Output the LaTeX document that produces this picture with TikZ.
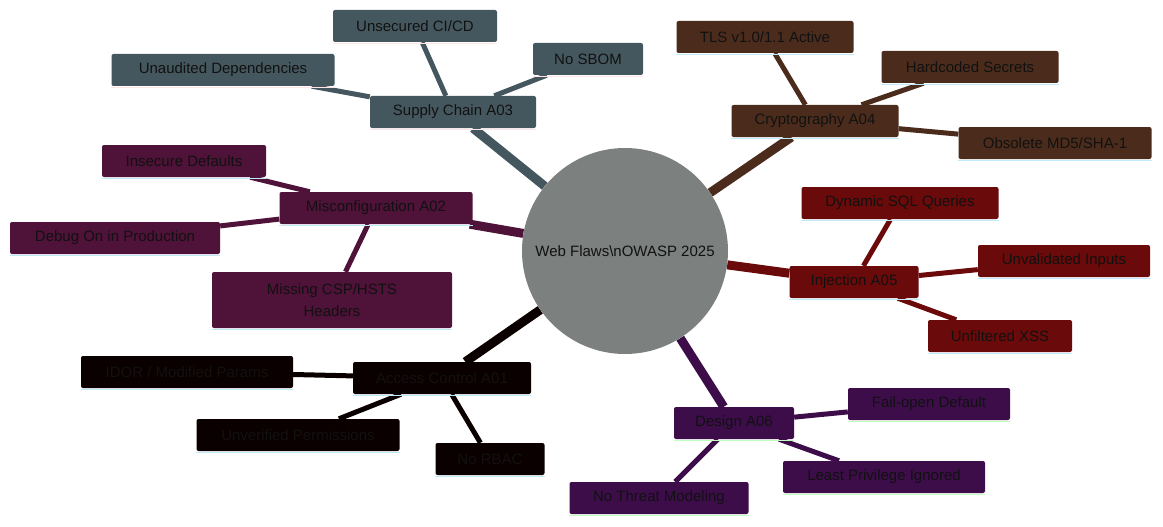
\documentclass[tikz,border=0pt]{standalone}
\usepackage{fontspec}
\setmainfont{Liberation Sans}
\usetikzlibrary{backgrounds}
\definecolor{slate}{HTML}{45575E}
\definecolor{rust}{HTML}{4B2C1C}
\definecolor{blood}{HTML}{6B0A0A}
\definecolor{plum}{HTML}{3D0D4A}
\definecolor{wine}{HTML}{4F1238}
\definecolor{coal}{HTML}{0A0000}
\definecolor{hub}{HTML}{7C807F}
\definecolor{ink}{HTML}{111111}

\begin{document}
\begin{tikzpicture}[x=1pt,y=-1pt,
  box/.style={fill=#1,rounded corners=2pt,inner sep=0pt,minimum height=32pt,font=\fontsize{15}{18}\selectfont,text=ink},
  uline/.style={append after command={([yshift=-1.2pt]\tikzlastnode.south west) edge[draw=#1,line width=1.6pt] ([yshift=-1.2pt]\tikzlastnode.south east)}},
  trunk/.style={draw=#1,line width=9pt},
  twig/.style={draw=#1,line width=5pt}]
\useasboundingbox (0,0) rectangle (1163,527);

\node[circle,fill=hub,minimum size=206pt,inner sep=0pt,font=\fontsize{15}{18}\selectfont,text=ink] (root) at (625,251) {Web Flaws\textbackslash nOWASP 2025};

% supply chain
\node[box=slate,uline=pink!40,minimum width=166pt] (sc) at (453,112) {Supply Chain A03};
\node[box=slate,uline=pink!40,minimum width=164pt] (sc1) at (415,26) {Unsecured CI/CD};
\node[box=slate,uline=pink!40,minimum width=110pt] (sc2) at (588,59) {No SBOM};
\node[box=slate,uline=pink!40,minimum width=223pt] (sc3) at (223,70) {Unaudited Dependencies};

% cryptography
\node[box=rust,uline=cyan!25,minimum width=167pt] (cr) at (815,121) {Cryptography A04};
\node[box=rust,uline=cyan!25,minimum width=177pt] (cr1) at (765,37) {TLS v1.0/1.1 Active};
\node[box=rust,uline=cyan!25,minimum width=177pt] (cr2) at (970,67) {Hardcoded Secrets};
\node[box=rust,uline=cyan!25,minimum width=193pt] (cr3) at (1055,143) {Obsolete MD5/SHA-1};

% injection
\node[box=blood,uline=cyan!25,minimum width=129pt] (in) at (854,282) {Injection A05};
\node[box=blood,uline=cyan!25,minimum width=197pt] (in1) at (900,203) {Dynamic SQL Queries};
\node[box=blood,uline=cyan!25,minimum width=172pt] (in2) at (1064,261) {Unvalidated Inputs};
\node[box=blood,uline=cyan!25,minimum width=144pt] (in3) at (1000,336) {Unfiltered XSS};

% design
\node[box=plum,uline=green!25,minimum width=120pt] (de) at (734,423) {Design A06};
\node[box=plum,uline=green!25,minimum width=162pt] (de1) at (929,404) {Fail-open Default};
\node[box=plum,uline=green!25,minimum width=202pt] (de2) at (884,477) {Least Privilege Ignored};
\node[box=plum,uline=green!25,minimum width=179pt] (de3) at (659,498) {No Threat Modeling};

% misconfiguration
\node[box=wine,uline=cyan!25,minimum width=193pt] (mc) at (376,208) {Misconfiguration A02};
\node[box=wine,uline=cyan!25,minimum width=164pt] (mc1) at (184,161) {Insecure Defaults};
\node[box=wine,uline=cyan!25,minimum width=210pt] (mc2) at (115,238) {Debug On in Production};
\node[box=wine,uline=cyan!25,minimum width=240pt,minimum height=56pt,align=center] (mc3) at (332,300) {Missing CSP/HSTS\\[4pt]Headers};

% access control
\node[box=coal,uline=cyan!25,minimum width=178pt] (ac) at (442,378) {Access Control A01};
\node[box=coal,uline=cyan!25,minimum width=212pt] (ac1) at (187,372) {IDOR / Modified Params};
\node[box=coal,uline=cyan!25,minimum width=203pt] (ac2) at (298,435) {Unverified Permissions};
\node[box=coal,uline=cyan!25,minimum width=109pt] (ac3) at (490,459) {No RBAC};

\begin{scope}[on background layer]
\draw[trunk=slate] (root) -- (sc);
\draw[trunk=rust] (root) -- (cr);
\draw[trunk=blood] (root) -- (in);
\draw[trunk=plum] (root) -- (de);
\draw[trunk=wine] (root) -- (mc);
\draw[trunk=coal] (root) -- (ac);
\draw[twig=slate] (sc) -- (sc1) (sc) -- (sc2) (sc) -- (sc3);
\draw[twig=rust] (cr) -- (cr1) (cr) -- (cr2) (cr) -- (cr3);
\draw[twig=blood] (in) -- (in1) (in) -- (in2) (in) -- (in3);
\draw[twig=plum] (de) -- (de1) (de) -- (de2) (de) -- (de3);
\draw[twig=wine] (mc) -- (mc1) (mc) -- (mc2) (mc) -- (mc3);
\draw[twig=coal] (ac) -- (ac1) (ac) -- (ac2) (ac) -- (ac3);
\end{scope}
\end{tikzpicture}
\end{document}
